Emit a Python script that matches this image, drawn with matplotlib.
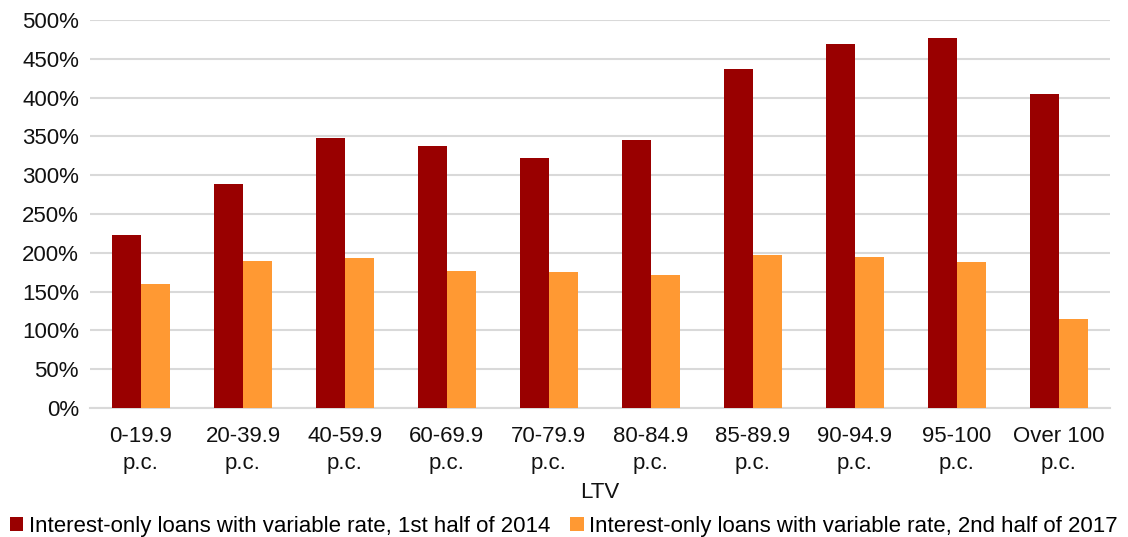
import matplotlib
matplotlib.use("Agg")
import matplotlib.pyplot as plt
import numpy as np

plt.rcParams['font.family'] = ['Liberation Sans', 'DejaVu Sans']
font_size = 16

categories = ['0-19.9\np.c.', '20-39.9\np.c.', '40-59.9\np.c.', '60-69.9\np.c.', '70-79.9\np.c.',
              '80-84.9\np.c.', '85-89.9\np.c.', '90-94.9\np.c.', '95-100\np.c.', 'Over 100\np.c.']
h1_2014 = [223, 289, 348, 337, 322, 345, 437, 469, 477, 405]
h2_2017 = [160, 189, 193, 176, 175, 171, 197, 195, 188, 115]
series_names = ['Interest-only loans with variable rate, 1st half of 2014',
                'Interest-only loans with variable rate, 2nd half of 2017']
yticks = [0, 50, 100, 150, 200, 250, 300, 350, 400, 450, 500]

fig = plt.figure(figsize=(11.28, 5.37), dpi=100)
ax = fig.add_axes([0.0798, 0.2402, 0.904, 0.7226])

x = np.arange(len(categories))
w = 0.285
ax.bar(x - w / 2, h1_2014, w, color='#990000', label=series_names[0], zorder=3)
ax.bar(x + w / 2, h2_2017, w, color='#FF9933', label=series_names[1], zorder=3)

ax.set_xlim(-0.5, len(categories) - 0.5)
ax.set_ylim(0, 500)
ax.set_yticks(yticks)
ax.set_yticklabels([f'{v}%' for v in yticks])
ax.set_xticks(x)
ax.set_xticklabels(categories, linespacing=1.35)
ax.tick_params(axis='both', length=0, labelsize=font_size, colors='#111111')
ax.tick_params(axis='x', pad=13)
ax.tick_params(axis='y', pad=8)
ax.grid(axis='y', color='#d9d9d9', linewidth=1.5, zorder=0)
for s in ['top', 'right', 'left']:
    ax.spines[s].set_visible(False)
ax.spines['bottom'].set_color('#d9d9d9')
ax.spines['bottom'].set_linewidth(1.5)
ax.set_xlabel('LTV', fontsize=font_size, color='#111111', labelpad=6)

fig.legend(loc='lower center', bbox_to_anchor=(0.5, -0.025), ncol=2, frameon=False,
           fontsize=font_size, handlelength=0.6, handleheight=0.6, handletextpad=0.25,
           columnspacing=0.9, borderaxespad=0.2)

fig.savefig('out.png', dpi=100)
